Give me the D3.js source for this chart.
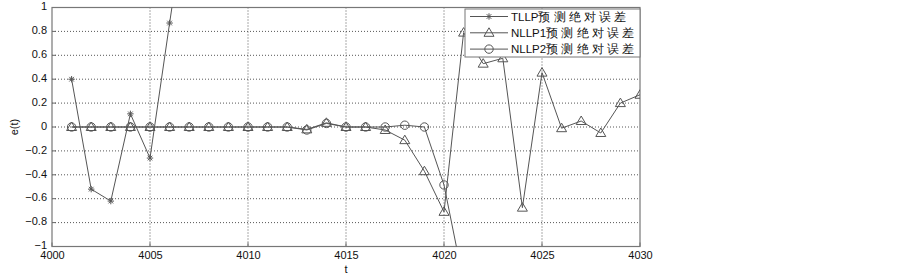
<!DOCTYPE html>
<html><head><meta charset="utf-8">
<script src="https://cdn.jsdelivr.net/npm/d3@7"></script>
<style>body{margin:0;background:#fff;} text{font-family:Arial,"Liberation Sans",sans-serif;}</style>
</head><body><svg id="c" width="903" height="276"></svg>
<script>
const tllpT = [4001,4002,4003,4004,4005,4006,4007];
const tllpV = [0.40,-0.52,-0.62,0.11,-0.26,0.87,1.97];
const nllp1T = [4001,4002,4003,4004,4005,4006,4007,4008,4009,4010,4011,4012,4013,4014,4015,4016,4017,4018,4019,4020,4021,4022,4023,4024,4025,4026,4027,4028,4029,4030];
const nllp1V = [0,0,0,0,0,0,0,0,0,0,0,0,-0.02,0.035,0,0,-0.025,-0.11,-0.37,-0.71,0.79,0.53,0.575,-0.675,0.455,-0.01,0.05,-0.05,0.20,0.27];
const nllp2T = [4001,4002,4003,4004,4005,4006,4007,4008,4009,4010,4011,4012,4013,4014,4015,4016,4017,4018,4019,4020,4021];
const nllp2V = [0,0,0,0,0,0,0,0,0,0,0,0,-0.025,0.03,0,0,0,0.015,0,-0.485,-1.3];
const xTicks = [4000,4005,4010,4015,4020,4025,4030];
const yTicks = [-1,-0.8,-0.6,-0.4,-0.2,0,0.2,0.4,0.6,0.8,1];
const legendLabels = ["TLLP预 测 绝 对 误 差","NLLP1预 测 绝 对 误 差","NLLP2预 测 绝 对 误 差"];

const svg = d3.select("#c");
const L=52,R=640,T=7.5,B=246.5;
const x = d3.scaleLinear().domain([4000,4030]).range([L,R]);
const y = d3.scaleLinear().domain([-1,1]).range([B,T]);
const col = "#555";

// grid
const g = svg.append("g");
g.selectAll(".gx").data(xTicks.slice(1,-1)).join("line")
  .attr("x1",d=>x(d)).attr("x2",d=>x(d)).attr("y1",T).attr("y2",B)
  .attr("stroke","#444").attr("stroke-dasharray","1,2").attr("stroke-width",0.9);
g.selectAll(".gy").data(yTicks.slice(1,-1)).join("line")
  .attr("y1",d=>y(d)).attr("y2",d=>y(d)).attr("x1",L).attr("x2",R)
  .attr("stroke","#444").attr("stroke-dasharray","1,2").attr("stroke-width",0.9);

// axes
const xa = svg.append("g").attr("transform",`translate(0,${B})`)
  .call(d3.axisBottom(x).tickValues(xTicks).tickFormat(d3.format("d")).tickSize(0).tickPadding(4));
const ya = svg.append("g").attr("transform",`translate(${L},0)`)
  .call(d3.axisLeft(y).tickValues(yTicks).tickFormat(d=>d===0?"0":d3.format("")(d)).tickSize(0).tickPadding(5));
[xa,ya].forEach(a=>{a.select(".domain").remove(); a.selectAll("text").attr("font-size",11).attr("fill","#111").attr("font-family","Arial,'Liberation Sans',sans-serif");});
ya.selectAll("text").attr("dy","0.2em");
xa.selectAll("text").attr("dy","0.8em");
// inward ticks
svg.append("g").selectAll("line").data(xTicks).join("line")
  .attr("x1",d=>x(d)).attr("x2",d=>x(d)).attr("y1",B).attr("y2",B-4).attr("stroke","#666");
svg.append("g").selectAll("line").data(yTicks).join("line")
  .attr("y1",d=>y(d)).attr("y2",d=>y(d)).attr("x1",L).attr("x2",L+4).attr("stroke","#666");
svg.append("rect").attr("x",L).attr("y",T).attr("width",R-L).attr("height",B-T)
  .attr("fill","none").attr("stroke","#777").attr("stroke-width",1.2);

svg.append("text").attr("x",x(4015)).attr("y",273).attr("text-anchor","middle").attr("font-size",11).attr("fill","#111").text("t");
svg.append("text").attr("transform",`translate(18,${y(0)}) rotate(-90)`).attr("text-anchor","middle").attr("font-size",11).attr("fill","#111").text("e(t)");

svg.append("clipPath").attr("id","clip").append("rect").attr("x",L).attr("y",T).attr("width",R-L).attr("height",B-T);

const line = d3.line().x(d=>x(d[0])).y(d=>y(d[1]));
const series = [
  {t:tllpT,v:tllpV,m:"star"},
  {t:nllp1T,v:nllp1V,m:"tri"},
  {t:nllp2T,v:nllp2V,m:"circ"}
];
function marker(sel,type,cx,cy){
  if(type==="star"){
    const s=3.2, d=2.3;
    sel.append("path").attr("d",`M${cx-s},${cy}L${cx+s},${cy}M${cx},${cy-s}L${cx},${cy+s}M${cx-d},${cy-d}L${cx+d},${cy+d}M${cx-d},${cy+d}L${cx+d},${cy-d}`)
      .attr("stroke",col).attr("stroke-width",1).attr("fill","none");
  } else if(type==="tri"){
    const s=5;
    sel.append("path").attr("d",`M${cx},${cy-s}L${cx+s},${cy+s*0.7}L${cx-s},${cy+s*0.7}Z`)
      .attr("stroke",col).attr("stroke-width",1).attr("fill","none");
  } else {
    sel.append("circle").attr("cx",cx).attr("cy",cy).attr("r",4.2)
      .attr("stroke",col).attr("stroke-width",1).attr("fill","none");
  }
}
const plot = svg.append("g").attr("clip-path","url(#clip)");
series.forEach(s=>{
  const pts = s.t.map((t,i)=>[t,s.v[i]]);
  plot.append("path").datum(pts).attr("d",line).attr("fill","none").attr("stroke",col).attr("stroke-width",1);
  const mg = plot.append("g");
  pts.filter(p=>p[1]>=-1&&p[1]<=1).forEach(p=>marker(mg,s.m,x(p[0]),y(p[1])));
});

// legend
const lg = svg.append("g");
lg.append("rect").attr("x",465).attr("y",9).attr("width",175).attr("height",48)
  .attr("fill","#fff").attr("stroke","#777").attr("stroke-width",1);
series.forEach((s,i)=>{
  const ly = 16.5 + i*16.3;
  lg.append("line").attr("x1",470).attr("x2",508).attr("y1",ly).attr("y2",ly).attr("stroke",col);
  marker(lg,s.m,489,ly);
  lg.append("text").attr("x",511).attr("y",ly+4).attr("font-size",11.5).attr("fill","#111").text(legendLabels[i]);
});
</script></body></html>
